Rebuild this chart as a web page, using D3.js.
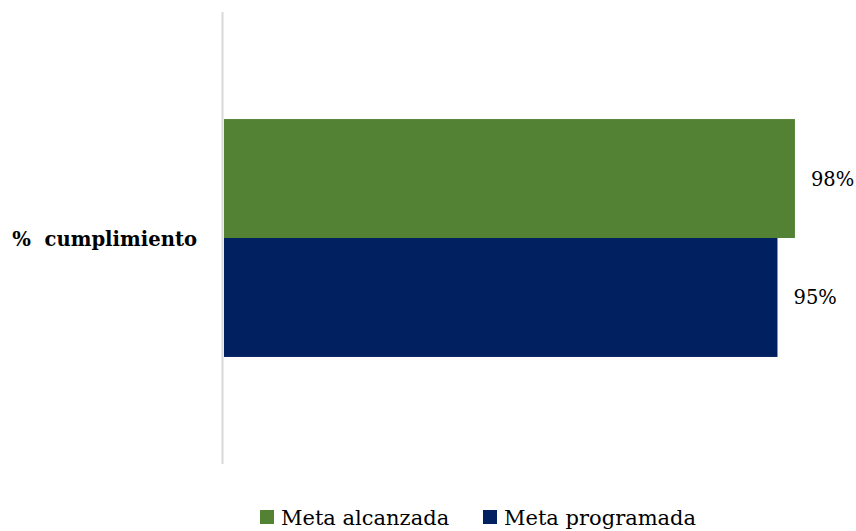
<!DOCTYPE html>
<html lang="es">
<head>
<meta charset="utf-8">
<script src="https://cdnjs.cloudflare.com/ajax/libs/d3/7.8.5/d3.min.js"></script>
<style>
  body { margin: 0; background: #ffffff; }
  svg { display: block; }
  text { font-family: "Palatino Linotype", "Book Antiqua", Palatino, "DejaVu Serif", serif; fill: #000; }
</style>
</head>
<body>
<svg id="chart"></svg>
<script>
// chart data
var categories = ["% cumplimiento"];
var seriesNames = ["Meta alcanzada", "Meta programada"];
var seriesValues = [0.98, 0.95];
var seriesColors = ["#548235", "#002060"];

var width = 856, height = 531;
var svg = d3.select("#chart").attr("width", width).attr("height", height);

var x = d3.scaleLinear().domain([0, 1]).range([224, 806.6]);
var y = d3.scaleBand().domain(categories).range([12, 464]);
var inner = d3.scaleBand().domain(seriesNames).range([0, y.bandwidth()]).paddingOuter(0.9);

// vertical axis line
svg.append("line")
  .attr("x1", 222.5).attr("x2", 222.5)
  .attr("y1", y.range()[0]).attr("y2", y.range()[1])
  .attr("stroke", "#d9d9d9").attr("stroke-width", 2);

var g = svg.append("g");
seriesNames.forEach(function(s, i) {
  var y0 = y(categories[0]) + inner(s);
  g.append("rect")
    .attr("x", x(0))
    .attr("y", y0)
    .attr("width", x(seriesValues[i]) - x(0))
    .attr("height", inner.bandwidth())
    .attr("fill", seriesColors[i]);
  g.append("text")
    .attr("x", x(seriesValues[i]) + 16)
    .attr("y", y0 + inner.bandwidth() / 2 + 7)
    .attr("font-size", 19.5)
    .text(Math.round(seriesValues[i] * 100) + "%");
});

// category label
svg.append("text")
  .attr("x", 197).attr("y", y(categories[0]) + y.bandwidth() / 2 + 8)
  .attr("text-anchor", "end")
  .attr("font-size", 19.6).attr("font-weight", "bold")
  .attr("xml:space", "preserve")
  .text(categories[0].replace(" ", "  "));

// legend
var legendX = [260, 483];
seriesNames.forEach(function(s, i) {
  svg.append("rect")
    .attr("x", legendX[i]).attr("y", 510)
    .attr("width", 14).attr("height", 14)
    .attr("fill", seriesColors[i]);
  svg.append("text")
    .attr("x", legendX[i] + 21).attr("y", 525)
    .attr("font-size", 21)
    .text(s);
});
</script>
</body>
</html>
